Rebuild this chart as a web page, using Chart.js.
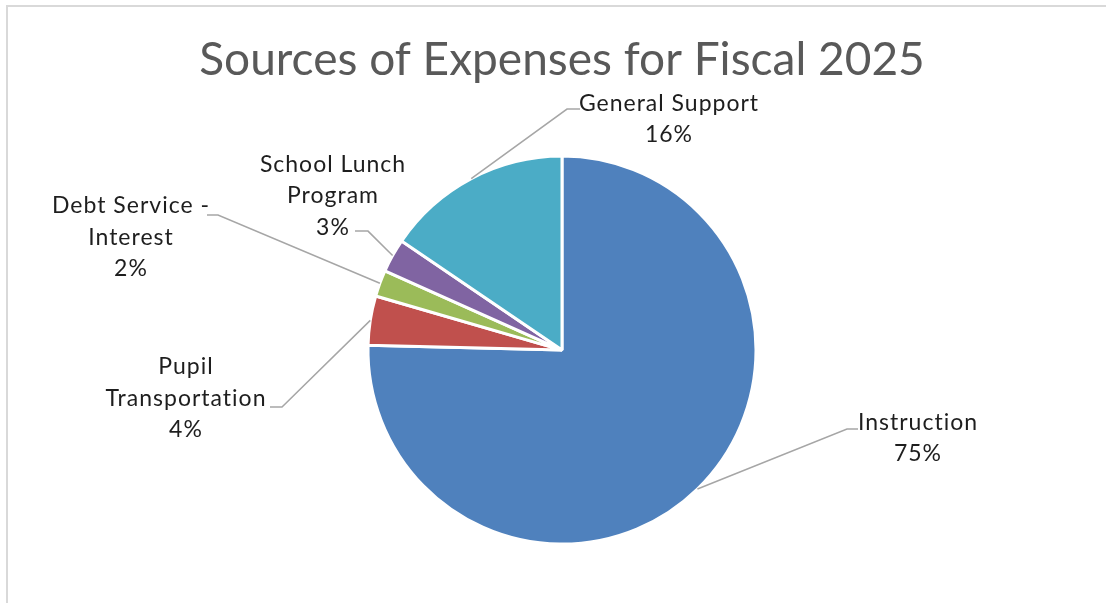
<!DOCTYPE html>
<html>
<head>
    <title>Sources of Expenses for Fiscal 2025</title>
    <script src="https://cdn.jsdelivr.net/npm/chart.js"></script>
    <style>
        html, body { margin: 0; padding: 0; background: #fff; overflow: hidden; }
        #frame { position: absolute; left: 6px; top: 5px; right: 0; bottom: 0;
                 border-top: 2px solid #d9d9d9; border-left: 2px solid #d9d9d9; }
        #wrap { position: absolute; left: 0; top: 0; width: 1106px; height: 603px; }
    </style>
</head>
<body>
<div id="frame"></div>
<div id="wrap"><canvas id="expenseChart" width="1106" height="603"></canvas></div>

<script>
    // values (percent of total)
    const categories = ['Instruction', 'Pupil Transportation', 'Debt Service - Interest', 'School Lunch Program', 'General Support'];
    const expenses = [75.4, 4.1, 2.2, 2.8, 15.5];
    const sliceColors = ['#4f81bd', '#c0504d', '#9bbb59', '#8064a2', '#4bacc6'];

    // where each data label sits, relative to the pie centre
    const labelLayout = [
        { text: [356, 71.5],   elbow: [285, 79],    end: [296, 79],    wrap: 250 },
        { text: [-376, 16],    elbow: [-280, 57],   end: [-292, 57],   wrap: 150 },
        { text: [-431, -145],  elbow: [-344, -135], end: [-355, -135], wrap: 170 },
        { text: [-229, -186.5],elbow: [-194, -119], end: [-207, -119], wrap: 160 },
        { text: [107, -247.5], elbow: [5, -241],    end: [18, -241],   wrap: 250 }
    ];
    const labelSize = 23;
    const lineH = 31.5;

    function wrapText(ctx, str, maxW) {
        const words = str.split(' ');
        const lines = [];
        let cur = '';
        words.forEach(w => {
            const test = cur ? cur + ' ' + w : w;
            if (cur && ctx.measureText(test).width > maxW) {
                lines.push(cur);
                cur = w;
            } else {
                cur = test;
            }
        });
        if (cur) lines.push(cur);
        return lines;
    }

    const pieLabels = {
        id: 'pieLabels',
        afterDatasetsDraw(chart) {
            const ctx = chart.ctx;
            const meta = chart.getDatasetMeta(0);
            const total = expenses.reduce((a, b) => a + b, 0);
            meta.data.forEach((arc, i) => {
                const p = arc.getProps(['x', 'y', 'startAngle', 'endAngle', 'outerRadius'], true);
                const mid = (p.startAngle + p.endAngle) / 2;
                const ax = p.x + Math.cos(mid) * p.outerRadius;
                const ay = p.y + Math.sin(mid) * p.outerRadius;
                const L = labelLayout[i];

                ctx.save();
                ctx.strokeStyle = '#a6a6a6';
                ctx.lineWidth = 1.5;
                ctx.beginPath();
                ctx.moveTo(ax, ay);
                ctx.lineTo(p.x + L.elbow[0], p.y + L.elbow[1]);
                ctx.lineTo(p.x + L.end[0], p.y + L.end[1]);
                ctx.stroke();

                ctx.font = labelSize + 'px Lato';
                ctx.letterSpacing = '1px';
                ctx.fillStyle = '#1e1e1e';
                ctx.textAlign = 'center';
                ctx.textBaseline = 'alphabetic';
                const lines = wrapText(ctx, categories[i], L.wrap);
                lines.push(Math.round(expenses[i] / total * 100) + '%');
                lines.forEach((t, k) => {
                    ctx.fillText(t, p.x + L.text[0], p.y + L.text[1] + k * lineH + labelSize * 0.36);
                });
                ctx.restore();
            });
        }
    };

    const chart = new Chart(document.getElementById('expenseChart'), {
        type: 'pie',
        data: {
            labels: categories,
            datasets: [{
                data: expenses,
                backgroundColor: sliceColors,
                borderColor: '#ffffff',
                borderWidth: 3,
                radius: 194
            }]
        },
        options: {
            responsive: false,
            animation: false,
            layout: { padding: { left: 18, right: 0, top: 0, bottom: 0 } },
            plugins: {
                legend: { display: false },
                tooltip: { enabled: false },
                title: {
                    display: true,
                    text: 'Sources of Expenses for Fiscal 2025',
                    color: '#595959',
                    font: { family: 'Lato', size: 46, weight: 'normal', lineHeight: 1.2 },
                    padding: { top: 33, bottom: 9 }
                }
            }
        },
        plugins: [pieLabels]
    });
</script>
</body>
</html>
